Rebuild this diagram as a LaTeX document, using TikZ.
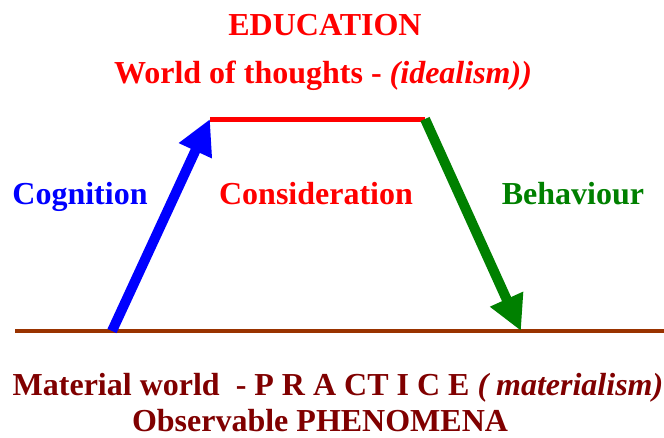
\documentclass[tikz,border=0pt]{standalone}
\usepackage{fontspec}
\setmainfont{Liberation Serif}
\usetikzlibrary{arrows.meta}
\definecolor{brownline}{RGB}{153,51,0}
\definecolor{darkmaroon}{RGB}{128,0,0}
\definecolor{leafgreen}{RGB}{0,128,0}
\tikzset{
  label/.style={font=\fontsize{32}{36}\selectfont\bfseries, inner sep=0pt, text depth=0pt, anchor=base},
  bigarrow/.style={line width=10pt, -{Triangle[length=35pt, width=34pt]}}
}
\begin{document}
\begin{tikzpicture}[x=1pt, y=-1pt]
        \useasboundingbox (0,0) rectangle (664,437);
        % Corners %
        \coordinate (groundleft) at (15,331);
        \coordinate (groundright) at (664,331);
        \coordinate (cogfoot) at (112,331);
        \coordinate (topleft) at (210,119);
        \coordinate (topright) at (425,119);
        \coordinate (behfoot) at (521,331);
        % Lines %
        \draw[brownline, line width=4pt] (groundleft) -- (groundright);
        \draw[red, line width=5pt] (topleft) -- (topright);
        % Arrows %
        \draw[bigarrow, blue] (cogfoot) -- (topleft);
        \draw[bigarrow, leafgreen] (topright) -- (behfoot);
        % Labels %
        \node[label, text=red] (education) at (325,35) {EDUCATION};
        \node[label, text=red] (thoughts) at (323,83) {World of thoughts - \textit{(idealism))}};
        \node[label, text=blue] (cognition) at (80,204) {Cognition};
        \node[label, text=red] (consideration) at (316,204) {Consideration};
        \node[label, text=leafgreen] (behaviour) at (573,204) {Behaviour};
        \node[label, text=darkmaroon] (material) at (338,395) {Material world\ \ - P R A CT I C E \textit{( materialism)}};
        \node[label, text=darkmaroon] (phenomena) at (320,431) {Observable PHENOMENA};

      \end{tikzpicture}
\end{document}
